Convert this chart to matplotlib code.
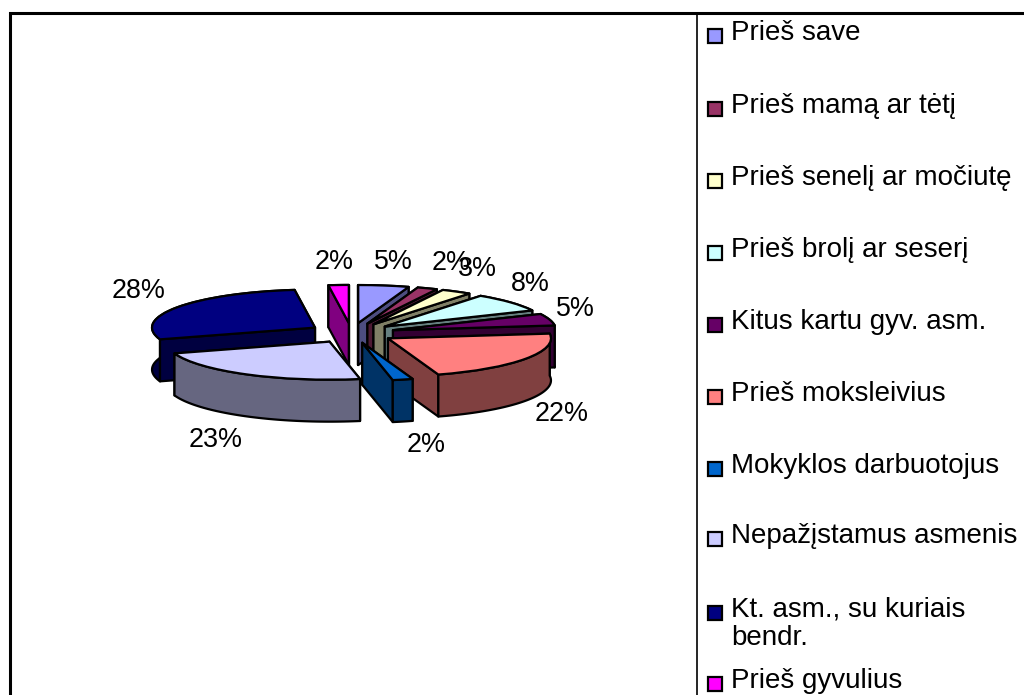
# coding=utf-8
"""Exploded 3D style pie chart with a side legend (Excel look)"""

import numpy as np
import matplotlib
matplotlib.use("Agg")
import matplotlib.pyplot as plt
from matplotlib.patches import Polygon, Rectangle

plt.rcParams["font.family"] = ["Liberation Sans", "DejaVu Sans"]

# chart data
categories = ["Prieš save", "Prieš mamą ar tėtį", "Prieš senelį ar močiutę",
              "Prieš brolį ar seserį", "Kitus kartu gyv. asm.", "Prieš moksleivius",
              "Mokyklos darbuotojus", "Nepažįstamus asmenis",
              "Kt. asm., su kuriais\nbendr.", "Prieš gyvulius"]
values = [5, 2, 3, 8, 5, 22, 2, 23, 28, 2]
top_colors = ["#9999FF", "#993366", "#FFFFCC", "#CCFFFF", "#660066",
              "#FF8080", "#0066CC", "#CCCCFF", "#000080", "#FF00FF"]
side_colors = ["#4D4D80", "#4D1A33", "#808066", "#668080", "#330033",
               "#804040", "#003366", "#666680", "#000040", "#800080"]

# label centres and legend rows, in pixels of the picture
label_xy = [(393, 262), (451, 263), (477, 269), (530, 284), (575, 309),
            (562, 414), (426, 445), (216, 440), (139, 291), (334, 262)]
legend_y = [32, 105, 177, 249, 321, 393, 465, 535, 609, 680]

W, H = 1024, 695
CX, CY = 351.5, 333     # pie centre
RX, RY = 163, 38        # radii of the squashed circle
DEPTH = 42              # height of the walls
EXPLODE = 0.265
EDGE = 1.6

fig = plt.figure(figsize=(W / 100, H / 100), dpi=100, facecolor="white")

# pie axes: one data unit is RX pixels across and RY pixels up
ax = fig.add_axes([0, 0, 1, 1])
wedges, _ = ax.pie(values, colors=top_colors, startangle=90, counterclock=False,
                   explode=[EXPLODE] * len(values),
                   wedgeprops={"edgecolor": "black", "linewidth": EDGE, "joinstyle": "round"})
ax.set_aspect("auto")
ax.set_xlim(-CX / RX, (W - CX) / RX)
ax.set_ylim((CY - H) / RY, CY / RY)

# walls go straight down from the top face, back slices are painted first
drop = DEPTH / RY
order = sorted(range(len(wedges)),
               key=lambda i: -np.sin(np.radians((wedges[i].theta1 + wedges[i].theta2) / 2)))
for z, i in enumerate(order):
    w = wedges[i]
    t = np.radians(np.linspace(w.theta1, w.theta2, 60))
    arc = np.c_[w.center[0] + w.r * np.cos(t), w.center[1] + w.r * np.sin(t)]
    apex = np.array(w.center)
    faces = [np.array([apex, arc[0]]), np.array([apex, arc[-1]]), arc]
    # far faces first
    faces.sort(key=lambda f: -f[:, 1].mean())
    for f in faces:
        wall = np.r_[f, (f - [0, drop])[::-1]]
        ax.add_patch(Polygon(wall, closed=True, facecolor=side_colors[i], edgecolor="black",
                             linewidth=EDGE, joinstyle="round", zorder=2 + 2 * z))
    w.set_zorder(3 + 2 * z)

# overlay in picture pixels: frame, value labels, legend
ov = fig.add_axes([0, 0, 1, 1])
ov.set_xlim(0, W)
ov.set_ylim(H, 0)
ov.axis("off")
ov.patch.set_alpha(0)

ov.plot([9.5, 9.5, W], [H, 12.5, 12.5], color="black", lw=2.2, solid_joinstyle="miter")
ov.plot([696.5, 696.5], [12.5, H], color="black", lw=1.2)

for (x, y), v in zip(label_xy, values):
    ov.text(x, y, f"{v}%", ha="center", va="center", fontsize=19.4, color="black")

for name, y, col in zip(categories, legend_y, top_colors):
    ov.add_patch(Rectangle((707.5, y - 3.5), 14, 14, facecolor=col, edgecolor="black", lw=1.6))
    ov.text(731, y - 12, name, ha="left", va="top", fontsize=20, color="black",
            linespacing=1.08)

fig.savefig("out.png", dpi=100)
